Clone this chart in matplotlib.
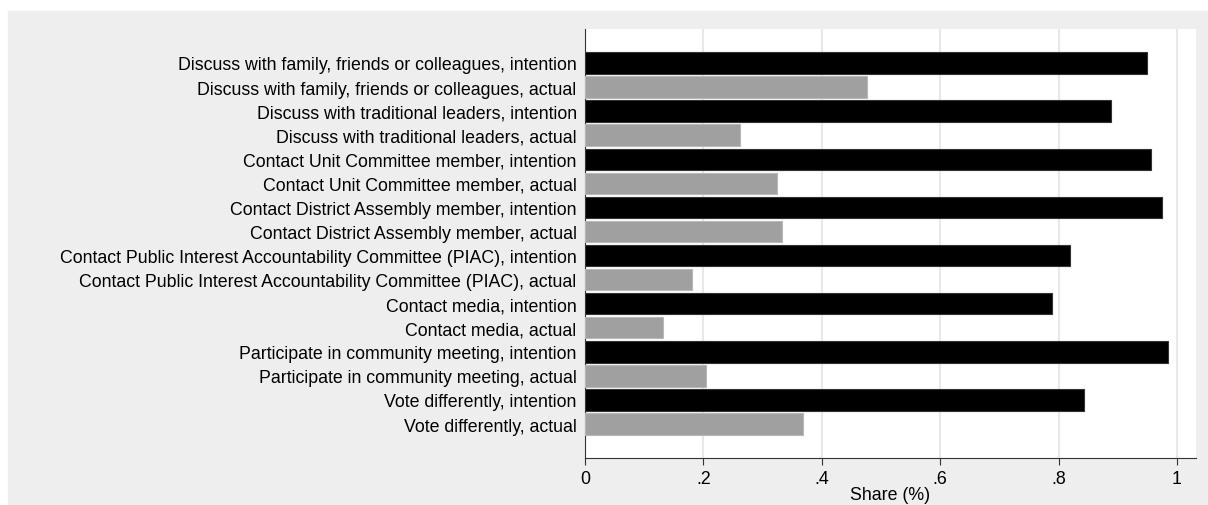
import matplotlib.pyplot as plt
from matplotlib.patches import Rectangle

plt.rcParams['font.family'] = ['Liberation Sans', 'DejaVu Sans']

labels = [
    'Discuss with family, friends or colleagues, intention',
    'Discuss with family, friends or colleagues, actual',
    'Discuss with traditional leaders, intention',
    'Discuss with traditional leaders, actual',
    'Contact Unit Committee member, intention',
    'Contact Unit Committee member, actual',
    'Contact District Assembly member, intention',
    'Contact District Assembly member, actual',
    'Contact Public Interest Accountability Committee (PIAC), intention',
    'Contact Public Interest Accountability Committee (PIAC), actual',
    'Contact media, intention',
    'Contact media, actual',
    'Participate in community meeting, intention',
    'Participate in community meeting, actual',
    'Vote differently, intention',
    'Vote differently, actual',
]
shares = [0.950, 0.477, 0.889, 0.262, 0.956, 0.324, 0.975, 0.332,
          0.820, 0.181, 0.788, 0.132, 0.984, 0.204, 0.843, 0.368]
kinds = ['intention', 'actual'] * 8
xticks = [0, 0.2, 0.4, 0.6, 0.8, 1.0]
xticklabels = ['0', '.2', '.4', '.6', '.8', '1']

fig = plt.figure(figsize=(12.08, 5.06), dpi=100, facecolor='white')
# gray graph region (Stata-like)
fig.patches.append(Rectangle((8 / 1208, -0.01), 1, (506 - 12) / 506 + 0.01,
                             transform=fig.transFigure, color='#eeeeee', zorder=-10))

ax = fig.add_axes([585 / 1208, 47 / 506, 611 / 1208, 429 / 506])
ax.set_facecolor('white')

colors = ['black' if k == 'intention' else '#a0a0a0' for k in kinds]
edges = ['#333333' if k == 'intention' else '#b8b8b8' for k in kinds]
ypos = list(range(len(labels)))
ax.barh(ypos, shares, height=0.89, color=colors, edgecolor=edges, linewidth=0.8, zorder=3)

ax.set_xlim(0, 1.032)
ax.set_ylim(15 + 1.41, -1.41)
ax.set_yticks(ypos)
ax.set_yticklabels(labels, fontsize=12.8)
ax.tick_params(axis='y', length=0, pad=6)
ax.set_xticks(xticks)
ax.set_xticklabels(xticklabels, fontsize=12.8)
ax.tick_params(axis='x', length=5, width=0.8, color='#333333', pad=4)
for v in xticks[1:]:
    ax.axvline(v, color='#e8e8e8', linewidth=1.5, zorder=1)

for s in ['top', 'right']:
    ax.spines[s].set_visible(False)
for s in ['left', 'bottom']:
    ax.spines[s].set_color('#333333')
    ax.spines[s].set_linewidth(0.8)

ax.set_xlabel('Share (%)', fontsize=12.8, labelpad=-1)

fig.savefig('out.png', dpi=100, facecolor=fig.get_facecolor())
